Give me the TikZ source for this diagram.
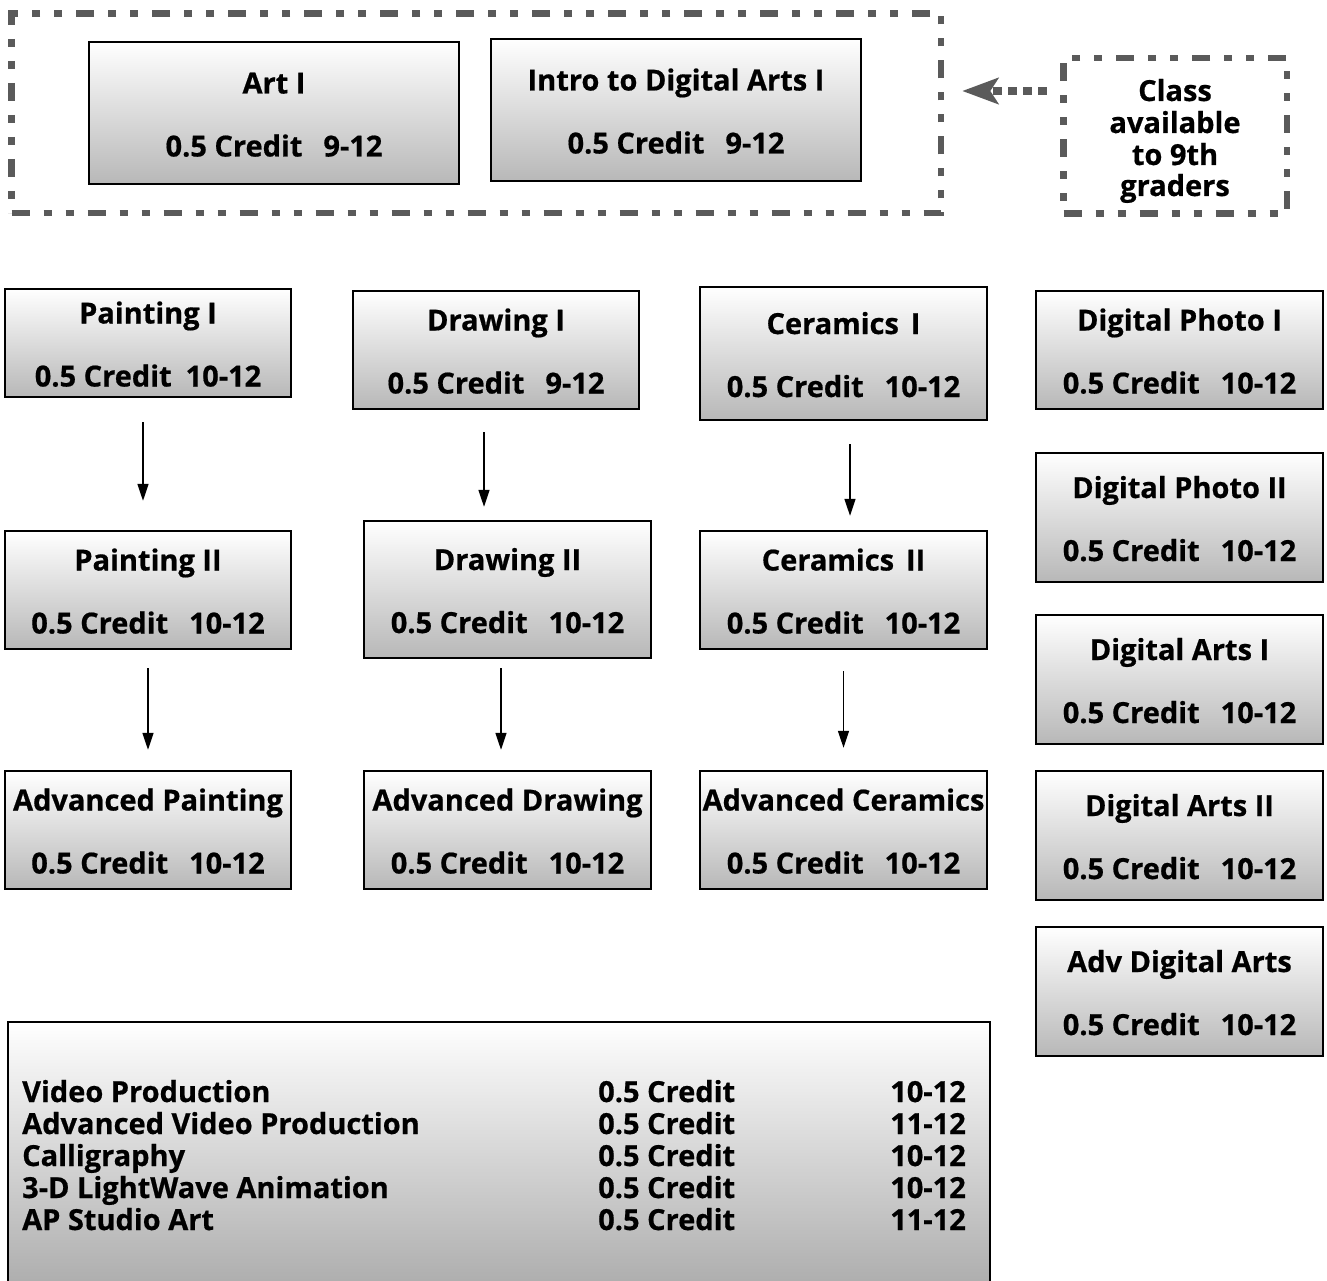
\documentclass[tikz,border=0pt]{standalone}
\usepackage{fontspec}
\setmainfont{Open Sans}[BoldFeatures={FakeBold=0.6}]
\usetikzlibrary{arrows.meta,fit}
\definecolor{dgray}{HTML}{5A5A5A}
\tikzset{
  cbox/.style={draw=black, line width=2.4pt, top color=white, middle color=black!7, bottom color=black!28, inner sep=0pt},
  bigbox/.style={draw=black, line width=2.4pt, top color=white, middle color=black!5, bottom color=black!32, inner sep=0pt},
  ctext/.style={anchor=base, inner sep=0pt, font=\fontsize{29}{32}\selectfont\bfseries},
  ltext/.style={inner sep=0pt, font=\fontsize{29}{32}\selectfont\bfseries},
  dashbox/.style={draw=dgray, line width=6.5pt, dash pattern=on 18pt off 14pt on 8pt off 14pt on 8pt off 14pt, inner sep=0pt},
  flow/.style={-{Triangle[length=17pt,width=11pt]}, line width=1.5pt},
  dotarrow/.style={draw=dgray, line width=7.5pt, dash pattern=on 9pt off 6pt, -{Stealth[length=36pt,width=26pt,inset=8pt]}},
}
\newcommand\course[7]{%
  \node[cbox, fit={(#2,#3) (#4,#5)}] (#1) {};
  \node[ctext] (#1t) at ([yshift=19.5pt]#1.center) {#6};
  \node[ctext] (#1c) at ([yshift=-43.5pt]#1.center) {#7};
}
\begin{document}
\begin{tikzpicture}[x=1pt,y=-1pt]
\useasboundingbox (0,0) rectangle (1327,1281);

% top group
\node[dashbox, fit={(11.5,13.5) (941,213)}] (outer) {};
\course{art}{89}{42}{459}{184}{Art I}{0.5 Credit\hspace{21pt}9-12}
\course{intro}{491}{39}{861}{181}{Intro to Digital Arts I}{0.5 Credit\hspace{21pt}9-12}

\node[dashbox, fit={(1063.5,58) (1287,213.5)}] (cls) {};
\node[ctext] (cls1) at (1175,101) {Class};
\node[ctext] (cls2) at (1175,133) {available};
\node[ctext] (cls3) at (1175,165) {to 9th};
\node[ctext] (cls4) at (1175,196) {graders};
\draw[dotarrow] ([xshift=-13.5pt,yshift=44.75pt]cls.west) -- ([xshift=18pt,yshift=22.25pt]outer.east);

% row 1
\course{p1}{5}{289}{291}{397}{Painting I}{0.5 Credit\hspace{14pt}10-12}
\course{d1}{353}{291}{639}{409}{Drawing I}{0.5 Credit\hspace{21pt}9-12}
\course{c1}{700}{287}{987}{420}{Ceramics\hspace{12pt}I}{0.5 Credit\hspace{21pt}10-12}
\course{dp1}{1036}{291}{1323}{409}{Digital Photo I}{0.5 Credit\hspace{21pt}10-12}

% row 2
\course{p2}{5}{531}{291}{649}{Painting II}{0.5 Credit\hspace{21pt}10-12}
\course{d2}{364}{521}{651}{658}{Drawing II}{0.5 Credit\hspace{21pt}10-12}
\course{c2}{700}{531}{987}{649}{Ceramics\hspace{12pt}II}{0.5 Credit\hspace{21pt}10-12}
\course{dp2}{1036}{453}{1323}{582}{Digital Photo II}{0.5 Credit\hspace{21pt}10-12}
\course{da1}{1036}{615}{1323}{744}{Digital Arts I}{0.5 Credit\hspace{21pt}10-12}

% row 3
\course{pa}{5}{771}{291}{889}{Advanced Painting}{0.5 Credit\hspace{21pt}10-12}
\course{dadv}{364}{771}{651}{889}{Advanced Drawing}{0.5 Credit\hspace{21pt}10-12}
\course{ca}{700}{771}{987}{889}{Advanced Ceramics}{0.5 Credit\hspace{21pt}10-12}
\course{da2}{1036}{771}{1323}{900}{Digital Arts II}{0.5 Credit\hspace{21pt}10-12}
\course{ada}{1036}{927}{1323}{1056}{Adv Digital Arts}{0.5 Credit\hspace{21pt}10-12}

% connectors
\draw[flow, shorten <=24pt, shorten >=29pt] ([xshift=-5pt]p1.south) -- ([xshift=-5pt]p2.north);
\draw[flow, shorten <=22pt, shorten >=13pt] ([xshift=-12pt]d1.south) -- ([xshift=-23.5pt]d2.north);
\draw[flow, shorten <=23pt, shorten >=14pt] ([xshift=6.5pt]c1.south) -- ([xshift=6.5pt]c2.north);
\draw[flow, shorten <=18pt, shorten >=20pt] (p2.south) -- (pa.north);
\draw[flow, shorten <=9pt, shorten >=20pt] ([xshift=-6.5pt]d2.south) -- ([xshift=-6.5pt]dadv.north);
\draw[flow, shorten <=21pt, shorten >=22pt] (c2.south) -- (ca.north);

% bottom list
\node[bigbox, fit={(8,1022) (990,1285)}] (list) {};
\foreach \n/\g [count=\i from 0] in {Video Production/10-12, Advanced Video Production/11-12, Calligraphy/10-12, 3-D LightWave Animation/10-12, AP Studio Art/11-12}{
  \node[ltext, anchor=base west] (ln\i) at (22,1102+32*\i) {\n};
  \node[ltext, anchor=base west] (lc\i) at (598,1102+32*\i) {0.5 Credit};
  \node[ltext, anchor=base east] (lg\i) at (966,1102+32*\i) {\g};
}
\end{tikzpicture}
\end{document}
